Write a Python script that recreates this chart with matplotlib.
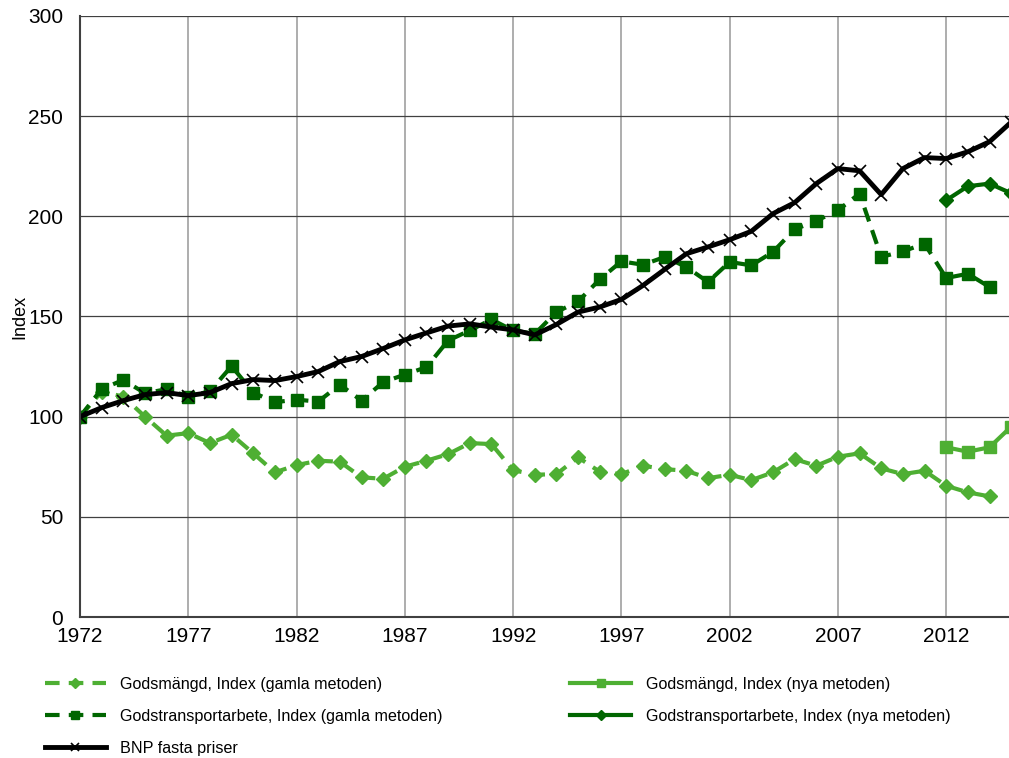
import numpy as np
import matplotlib.pyplot as plt

plt.rcParams['font.family'] = ['Liberation Sans', 'DejaVu Sans']

years = np.arange(1972, 2016)

# BNP fasta priser, 1972-2015
bnp = [100, 104.5, 108, 111, 112, 110.5, 112, 116.5, 118.5, 118, 120, 122.5, 127.5, 130, 134,
       138.3, 141.8, 145.2, 146.3, 144.7, 143.3, 140.8, 146, 152.2, 154.7, 158.5, 165.5, 173.5,
       181.3, 184.7, 188.3, 192.5, 201.3, 206.8, 216.3, 223.8, 222.7, 210.8, 223.8, 229.3, 228.8,
       232.2, 237.2, 247]

# Godstransportarbete, gamla metoden 1972-2014
gta_gamla = [100, 113.8, 118.3, 111.7, 113.7, 110, 112.7, 125.2, 112, 107.2, 108.5, 107.5, 116,
             108, 117.2, 121, 124.7, 138, 143, 148.5, 143, 141.3, 152.2, 157.5, 168.5, 177.5,
             175.8, 179.7, 174.7, 167.2, 177.2, 175.5, 182.2, 193.5, 197.7, 203, 211.3, 179.7,
             182.5, 186.3, 169.2, 171.3, 164.7]

# Godsmängd, gamla metoden 1972-2014
gm_gamla = [100, 112.5, 110, 100, 90.5, 91.8, 86.8, 91, 81.7, 72.2, 75.8, 78, 77.5, 69.7, 69,
            75, 78, 81.3, 86.8, 86.3, 73.3, 71, 71.3, 79.7, 72.5, 71.3, 75.5, 73.8, 73, 69.3, 71,
            68.3, 72.2, 78.8, 75.5, 80, 81.7, 74.2, 71.3, 73, 65.5, 62.2, 60.2]

# nya metoden 2012-2015
nya_years = [2012, 2013, 2014, 2015]
gta_nya = [208, 215, 216.3, 211.5]
gm_nya = [84.7, 82.5, 84.7, 95]

light = '#4EAF33'
dark = '#006600'

fig = plt.figure(figsize=(10.09, 7.58), dpi=100)
ax = fig.add_axes([0.0793, 0.186, 0.9207, 0.793])

ax.plot(years[:43], gm_gamla, color=light, lw=3, ls=(0, (3.5, 2.2)), marker='D', ms=7.5,
        label='Godsmängd, Index (gamla metoden)')
ax.plot(nya_years, gm_nya, color=light, lw=3, marker='s', ms=8.5,
        label='Godsmängd, Index (nya metoden)')
ax.plot(years[:43], gta_gamla, color=dark, lw=3, ls=(0, (3.5, 2.2)), marker='s', ms=8.5,
        label='Godstransportarbete, Index (gamla metoden)')
ax.plot(nya_years, gta_nya, color=dark, lw=3, marker='D', ms=7.5,
        label='Godstransportarbete, Index (nya metoden)')
ax.plot(years, bnp, color='black', lw=3.5, marker='x', ms=8, mew=1.2,
        label='BNP fasta priser')

ax.set_xlim(1972, 2014.9)
ax.set_ylim(0, 300)
ax.set_xticks(range(1972, 2013, 5))
ax.set_yticks(range(0, 301, 50))
ax.tick_params(length=0, labelsize=15, pad=7)
ax.tick_params(axis='y', pad=12)
ax.grid(axis='y', color='#404040', lw=0.9)
ax.grid(axis='x', color='#a0a0a0', lw=1.2)
ax.set_axisbelow(True)
for s in ['top', 'right']:
    ax.spines[s].set_visible(False)
ax.spines['left'].set_color('#404040')
ax.spines['left'].set_linewidth(1.5)
ax.spines['bottom'].set_color('#404040')
ax.spines['bottom'].set_linewidth(1.5)
ax.set_ylabel('Index', fontsize=13, labelpad=0)

handles, labels = ax.get_legend_handles_labels()
order = [0, 2, 4, 1, 3]
fig.legend([handles[i] for i in order], [labels[i] for i in order], ncol=2,
           loc='lower left', bbox_to_anchor=(0.03, -0.016), frameon=False, fontsize=11.6,
           handlelength=3.8, handletextpad=0.9, columnspacing=7.9, labelspacing=1.05,
           markerscale=0.7)

fig.savefig('out.png', dpi=100)
